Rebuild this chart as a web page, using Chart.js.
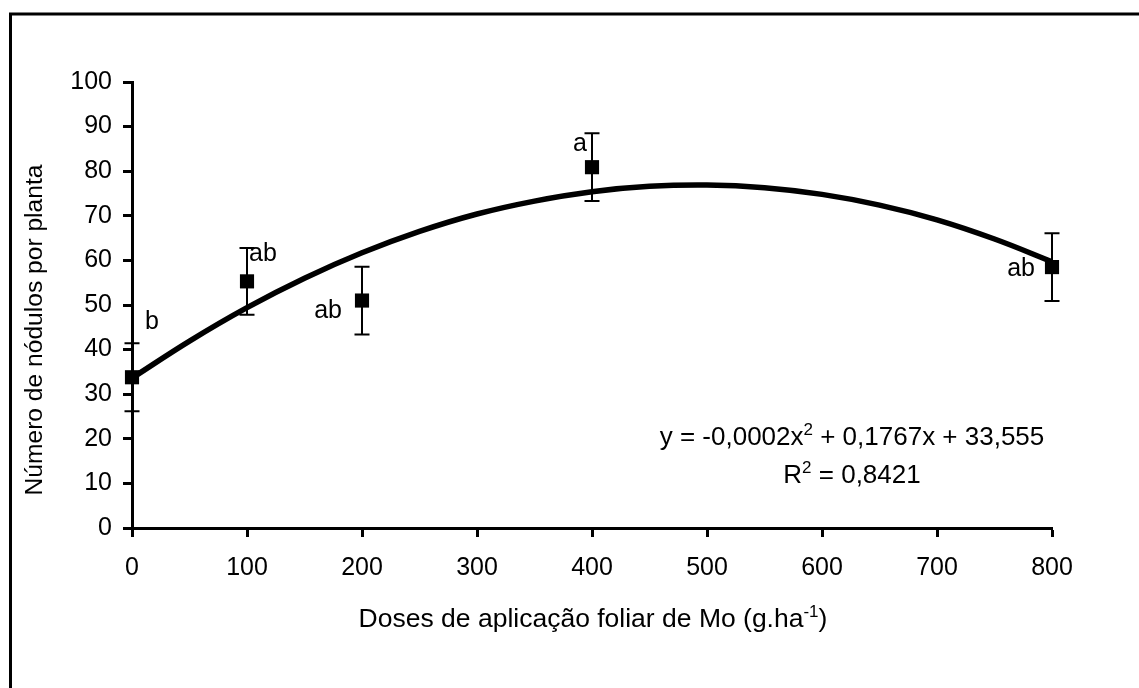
<!DOCTYPE html>
<html>
<head>
<meta charset="utf-8">
<script src="https://cdn.jsdelivr.net/npm/chart.js@4"></script>
<style>
  body { margin: 0; background: #fff; }
  #wrap { width: 1139px; height: 688px; position: relative; }
</style>
</head>
<body>
<div id="wrap"><canvas id="nodChart"></canvas></div>
<script>
// Doses de Mo (g/ha) e número médio de nódulos
const doses = [0, 100, 200, 400, 800];
const nodulos = [33.8, 55.3, 51.0, 80.9, 58.5];
const erro = [7.6, 7.5, 7.6, 7.6, 7.6];
const letras = ['b', 'ab', 'ab', 'a', 'ab'];

// curva de tendência
const trendX = [0, 50, 100, 150, 200, 250, 300, 350, 400, 450, 500, 550, 600, 650, 700, 750, 800];
const trendY = [33.6, 41.9, 49.4, 56.0, 61.7, 66.5, 70.4, 73.3, 75.4, 76.6, 76.9, 76.3, 74.8, 72.4, 69.1, 64.8, 59.7];

// posição das letras em relação ao ponto (px)
const letraPos = [
  { dx: 13, dy: -48, align: 'left' },
  { dx: 2, dy: -20, align: 'left' },
  { dx: -20, dy: 17, align: 'right' },
  { dx: -5, dy: -16, align: 'right' },
  { dx: -17, dy: 9, align: 'right' }
];

const FONT = '"Liberation Sans", Arial, Helvetica, sans-serif';

// draws text with a superscript part: parts = [[text, isSup], ...]
function drawRich(ctx, parts, cx, baseline, size) {
  const big = size + 'px ' + FONT, small = Math.round(size * 0.65) + 'px ' + FONT;
  let total = 0;
  parts.forEach(p => {
    ctx.font = p[1] ? small : big;
    total += ctx.measureText(p[0]).width;
  });
  let x = cx - total / 2;
  ctx.textAlign = 'left';
  ctx.textBaseline = 'alphabetic';
  parts.forEach(p => {
    ctx.font = p[1] ? small : big;
    ctx.fillText(p[0], x, p[1] ? baseline - 10 : baseline);
    x += ctx.measureText(p[0]).width;
  });
}

const extras = {
  id: 'extras',
  beforeDraw(chart) {
    const ctx = chart.ctx;
    ctx.save();
    ctx.fillStyle = '#fff';
    ctx.fillRect(0, 0, chart.width, chart.height);
    ctx.restore();
  },
  afterDatasetsDraw(chart) {
    const { ctx, scales: { x, y } } = chart;
    ctx.save();
    // barras de erro
    ctx.strokeStyle = '#000';
    ctx.lineWidth = 2;
    doses.forEach((d, i) => {
      const px = x.getPixelForValue(d);
      const top = y.getPixelForValue(nodulos[i] + erro[i]);
      const bot = y.getPixelForValue(nodulos[i] - erro[i]);
      ctx.beginPath();
      ctx.moveTo(px, top); ctx.lineTo(px, bot);
      ctx.moveTo(px - 7.5, top); ctx.lineTo(px + 7.5, top);
      ctx.moveTo(px - 7.5, bot); ctx.lineTo(px + 7.5, bot);
      ctx.stroke();
    });
    // letras
    ctx.fillStyle = '#000';
    ctx.font = '25px ' + FONT;
    ctx.textBaseline = 'alphabetic';
    doses.forEach((d, i) => {
      const px = x.getPixelForValue(d);
      const py = y.getPixelForValue(nodulos[i]);
      ctx.textAlign = letraPos[i].align;
      ctx.fillText(letras[i], px + letraPos[i].dx, py + letraPos[i].dy);
    });
    ctx.restore();
  },
  afterDraw(chart) {
    const ctx = chart.ctx;
    const area = chart.chartArea;
    ctx.save();
    ctx.fillStyle = '#000';
    // equação
    drawRich(ctx, [['y = -0,0002x', false], ['2', true], [' + 0,1767x + 33,555', false]], 852, 445, 26);
    drawRich(ctx, [['R', false], ['2', true], [' = 0,8421', false]], 852, 483, 26);
    // título eixo x
    drawRich(ctx, [['Doses de aplicação foliar de Mo (g.ha', false], ['-1', true], [')', false]], (area.left + area.right) / 2 + 1, 627, 26.5);
    // título eixo y
    ctx.translate(42, 330);
    ctx.rotate(-Math.PI / 2);
    ctx.font = '24.6px ' + FONT;
    ctx.textAlign = 'center';
    ctx.textBaseline = 'alphabetic';
    ctx.fillText('Número de nódulos por planta', 0, 0);
    ctx.restore();
    // moldura
    ctx.save();
    ctx.strokeStyle = '#000';
    ctx.lineWidth = 3;
    ctx.beginPath();
    ctx.moveTo(10.5, 688);
    ctx.lineTo(10.5, 14);
    ctx.lineTo(1139, 14);
    ctx.stroke();
    ctx.restore();
  }
};

const ctx = document.getElementById('nodChart').getContext('2d');
new Chart(ctx, {
  type: 'scatter',
  data: {
    datasets: [
      {
        type: 'line',
        label: 'Tendência',
        data: trendX.map((v, i) => ({ x: v, y: trendY[i] })),
        borderColor: '#000',
        borderWidth: 5.5,
        pointRadius: 0,
        tension: 0.4,
        fill: false,
        clip: false,
        order: 2
      },
      {
        label: 'Nódulos',
        data: doses.map((v, i) => ({ x: v, y: nodulos[i] })),
        pointStyle: 'rect',
        pointRadius: 10,
        backgroundColor: '#000',
        borderColor: '#000',
        borderWidth: 0,
        showLine: false,
        clip: false,
        order: 1
      }
    ]
  },
  options: {
    responsive: true,
    maintainAspectRatio: false,
    animation: false,
    layout: { padding: { left: 10, right: 87, top: 82, bottom: 100 } },
    plugins: {
      legend: { display: false },
      tooltip: { enabled: false }
    },
    scales: {
      x: {
        type: 'linear',
        min: 0,
        max: 800,
        afterFit: s => { s.height = 60; },
        ticks: { stepSize: 100, color: '#000', padding: 16, font: { size: 25, family: FONT } },
        grid: { drawOnChartArea: false, drawTicks: true, tickLength: 9, tickColor: '#000', tickWidth: 3 },
        border: { color: '#000', width: 3 }
      },
      y: {
        min: 0,
        max: 100,
        afterFit: s => { s.width = 122; },
        ticks: { stepSize: 10, color: '#000', padding: 11, font: { size: 25, family: FONT } },
        grid: { drawOnChartArea: false, drawTicks: true, tickLength: 9, tickColor: '#000', tickWidth: 3 },
        border: { color: '#000', width: 3 }
      }
    }
  },
  plugins: [extras]
});
</script>
</body>
</html>
